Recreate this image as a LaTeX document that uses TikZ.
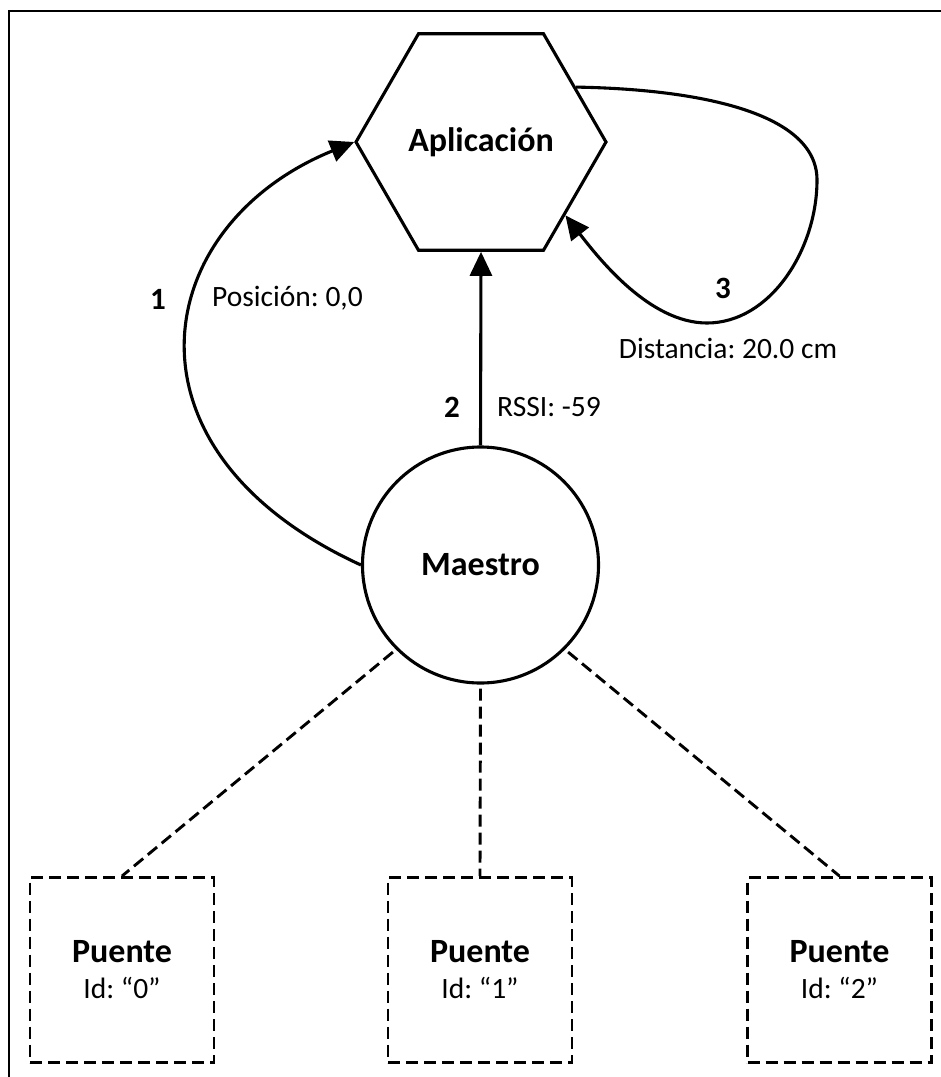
\documentclass[tikz,border=0pt]{standalone}
\usepackage{fontspec}
\setmainfont{Carlito}
\usetikzlibrary{shapes.geometric,arrows.meta}
\frenchspacing
\begin{document}
\frenchspacing
\begin{tikzpicture}[x=1pt,y=-1pt,
  base/.style={line width=3.1pt, draw=black},
  arr/.style={line width=3.1pt, -{Triangle[length=24pt,width=22pt]}},
  dline/.style={line width=2.9pt, dash pattern=on 12pt off 6pt},
  titlefont/.style={font=\fontsize{34}{40}\selectfont\bfseries},
  numlabel/.style={font=\fontsize{31}{36}\selectfont\bfseries, inner sep=0},
  txtlabel/.style={font=\fontsize{29.5}{34}\selectfont, inner sep=0},
  bridge/.style={draw, dline, minimum width=184pt, minimum height=185pt, inner sep=0, align=center, font=\fontsize{29.5}{36}\selectfont}
]
\useasboundingbox (0,0) rectangle (941,1077);
\fill[white] (0,0) rectangle (941,1077);
\draw[line width=2.4pt] (9,1077) -- (9,11) -- (941,11);

\node[base, regular polygon, regular polygon sides=6, minimum size=250pt, inner sep=0, titlefont] (app) at (481,142) {Aplicación};
\node[base, circle, minimum size=236pt, inner sep=0, titlefont] (m) at (480.5,565) {Maestro};

\node[bridge] (p0) at (122,970) {{\fontsize{34}{36}\selectfont\bfseries Puente}\\Id: “0”};
\node[bridge] (p1) at (480,970) {{\fontsize{34}{36}\selectfont\bfseries Puente}\\Id: “1”};
\node[bridge] (p2) at (839.5,970) {{\fontsize{34}{36}\selectfont\bfseries Puente}\\Id: “2”};

% connectors
\draw[arr] (m.north) -- (app.south);
\draw[arr] (m.west) .. controls (110,450) and (150,225) .. (app.west);
\draw[arr] (app.30) .. controls (690,89) and (817,110) .. (817,180)
  .. controls (817,250) and (770,323) .. (707,323)
  .. controls (650,323) and (600,260) .. (app.-41);

\draw[dline, shorten <=4pt] (m.225) -- (p0.north);
\draw[dline, shorten <=4pt] (m.south) -- (p1.north);
\draw[dline, shorten <=4pt] (m.315) -- (p2.north);

% labels
\node[numlabel] (n1) at (158,299) {1};
\node[txtlabel, anchor=west] (l1) at (212,298) {Posición: 0,0};
\node[numlabel] (n2) at (452,407) {2};
\node[txtlabel, anchor=west] (l2) at (497,407) {RSSI: -59};
\node[numlabel] (n3) at (723,288) {3};
\node[txtlabel] (l3) at (728,348) {Distancia: 20.0 cm};
\end{tikzpicture}
\end{document}
